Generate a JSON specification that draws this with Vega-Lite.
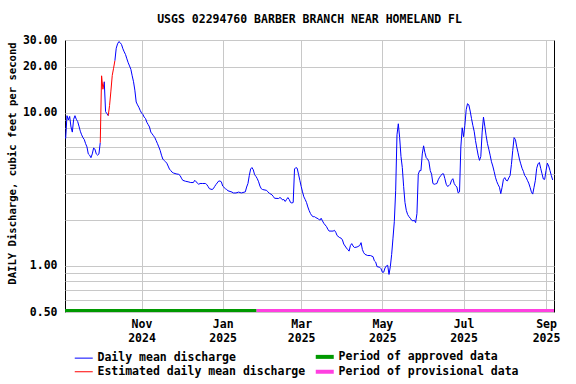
{
  "$schema": "https://vega.github.io/schema/vega-lite/v6.json",
  "width": 489,
  "height": 272,
  "autosize": "none",
  "padding": {"left": 65, "top": 40, "right": 22, "bottom": 72},
  "background": "white",
  "title": {"text": "USGS 02294760 BARBER BRANCH NEAR HOMELAND FL", "font": "DejaVu Sans Mono", "fontSize": 11.5, "fontWeight": "bold", "color": "black", "anchor": "middle", "offset": 9},
  "config": {"view": {"stroke": "black", "strokeWidth": 1}, "font": "DejaVu Sans Mono"},
  "layer": [
    {
      "data": {"values": [
        {"d":"2024-09-05","v":6.8,"s":"D","g":"b1"},{"d":"2024-09-06","v":9.6,"s":"D","g":"b1"},{"d":"2024-09-07","v":9.0,"s":"D","g":"b1"},{"d":"2024-09-08","v":9.5,"s":"D","g":"b1"},{"d":"2024-09-09","v":8.1,"s":"D","g":"b1"},{"d":"2024-09-10","v":7.5,"s":"D","g":"b1"},{"d":"2024-09-11","v":9.1,"s":"D","g":"b1"},{"d":"2024-09-12","v":9.6,"s":"D","g":"b1"},{"d":"2024-09-13","v":9.1,"s":"D","g":"b1"},{"d":"2024-09-14","v":8.8,"s":"D","g":"b1"},{"d":"2024-09-15","v":8.2,"s":"D","g":"b1"},{"d":"2024-09-16","v":7.6,"s":"D","g":"b1"},{"d":"2024-09-17","v":7.2,"s":"D","g":"b1"},{"d":"2024-09-18","v":6.9,"s":"D","g":"b1"},{"d":"2024-09-19","v":6.7,"s":"D","g":"b1"},{"d":"2024-09-20","v":6.3,"s":"D","g":"b1"},{"d":"2024-09-21","v":6.0,"s":"D","g":"b1"},{"d":"2024-09-22","v":5.4,"s":"D","g":"b1"},{"d":"2024-09-23","v":5.3,"s":"D","g":"b1"},{"d":"2024-09-24","v":5.1,"s":"D","g":"b1"},{"d":"2024-09-25","v":5.4,"s":"D","g":"b1"},{"d":"2024-09-26","v":5.9,"s":"D","g":"b1"},{"d":"2024-09-27","v":5.8,"s":"D","g":"b1"},{"d":"2024-09-28","v":5.4,"s":"D","g":"b1"},{"d":"2024-09-29","v":5.3,"s":"D","g":"b1"},{"d":"2024-09-30","v":5.4,"s":"D","g":"b1"},{"d":"2024-10-01","v":6.4,"s":"D","g":"b1"},
        {"d":"2024-10-01","v":6.4,"s":"E","g":"e1"},{"d":"2024-10-02","v":17.5,"s":"E","g":"e1"},{"d":"2024-10-03","v":14.3,"s":"E","g":"e1"},{"d":"2024-10-04","v":16.0,"s":"E","g":"e1"},
        {"d":"2024-10-04","v":16.0,"s":"D","g":"b2"},{"d":"2024-10-05","v":10.2,"s":"D","g":"b2"},{"d":"2024-10-06","v":9.9,"s":"D","g":"b2"},{"d":"2024-10-07","v":9.6,"s":"D","g":"b2"},
        {"d":"2024-10-07","v":9.6,"s":"E","g":"e2"},{"d":"2024-10-08","v":11.2,"s":"E","g":"e2"},{"d":"2024-10-09","v":13.9,"s":"E","g":"e2"},{"d":"2024-10-10","v":17.6,"s":"E","g":"e2"},{"d":"2024-10-11","v":19.6,"s":"E","g":"e2"},{"d":"2024-10-12","v":22.0,"s":"E","g":"e2"},
        {"d":"2024-10-12","v":22.0,"s":"D","g":"b3"},{"d":"2024-10-13","v":26.5,"s":"D","g":"b3"},{"d":"2024-10-14","v":28.3,"s":"D","g":"b3"},{"d":"2024-10-15","v":29.3,"s":"D","g":"b3"},{"d":"2024-10-16","v":28.8,"s":"D","g":"b3"},{"d":"2024-10-17","v":28.0,"s":"D","g":"b3"},{"d":"2024-10-18","v":26.3,"s":"D","g":"b3"},{"d":"2024-10-19","v":25.1,"s":"D","g":"b3"},{"d":"2024-10-20","v":24.1,"s":"D","g":"b3"},{"d":"2024-10-21","v":22.6,"s":"D","g":"b3"},{"d":"2024-10-22","v":21.3,"s":"D","g":"b3"},{"d":"2024-10-23","v":20.3,"s":"D","g":"b3"},{"d":"2024-10-24","v":19.3,"s":"D","g":"b3"},{"d":"2024-10-25","v":17.5,"s":"D","g":"b3"},{"d":"2024-10-26","v":16.0,"s":"D","g":"b3"},{"d":"2024-10-27","v":14.1,"s":"D","g":"b3"},{"d":"2024-10-28","v":11.8,"s":"D","g":"b3"},{"d":"2024-10-29","v":11.3,"s":"D","g":"b3"},{"d":"2024-10-30","v":10.9,"s":"D","g":"b3"},{"d":"2024-10-31","v":10.4,"s":"D","g":"b3"},
        {"d":"2024-11-01","v":10.0,"s":"D","g":"b3"},{"d":"2024-11-02","v":9.8,"s":"D","g":"b3"},{"d":"2024-11-03","v":9.4,"s":"D","g":"b3"},{"d":"2024-11-04","v":9.2,"s":"D","g":"b3"},{"d":"2024-11-05","v":8.7,"s":"D","g":"b3"},{"d":"2024-11-06","v":8.4,"s":"D","g":"b3"},{"d":"2024-11-07","v":8.1,"s":"D","g":"b3"},{"d":"2024-11-08","v":7.5,"s":"D","g":"b3"},{"d":"2024-11-09","v":7.3,"s":"D","g":"b3"},{"d":"2024-11-10","v":7.1,"s":"D","g":"b3"},{"d":"2024-11-11","v":6.9,"s":"D","g":"b3"},{"d":"2024-11-12","v":6.6,"s":"D","g":"b3"},{"d":"2024-11-13","v":6.3,"s":"D","g":"b3"},{"d":"2024-11-14","v":6.0,"s":"D","g":"b3"},{"d":"2024-11-15","v":5.7,"s":"D","g":"b3"},{"d":"2024-11-16","v":5.3,"s":"D","g":"b3"},{"d":"2024-11-17","v":5.0,"s":"D","g":"b3"},{"d":"2024-11-18","v":4.9,"s":"D","g":"b3"},{"d":"2024-11-19","v":4.8,"s":"D","g":"b3"},{"d":"2024-11-20","v":4.7,"s":"D","g":"b3"},{"d":"2024-11-21","v":4.5,"s":"D","g":"b3"},{"d":"2024-11-22","v":4.3,"s":"D","g":"b3"},{"d":"2024-11-23","v":4.2,"s":"D","g":"b3"},{"d":"2024-11-24","v":4.1,"s":"D","g":"b3"},{"d":"2024-11-25","v":4.05,"s":"D","g":"b3"},{"d":"2024-11-27","v":4.0,"s":"D","g":"b3"},{"d":"2024-11-29","v":3.97,"s":"D","g":"b3"},{"d":"2024-11-30","v":3.9,"s":"D","g":"b3"},
        {"d":"2024-12-01","v":3.75,"s":"D","g":"b3"},{"d":"2024-12-02","v":3.63,"s":"D","g":"b3"},{"d":"2024-12-04","v":3.58,"s":"D","g":"b3"},{"d":"2024-12-06","v":3.55,"s":"D","g":"b3"},{"d":"2024-12-08","v":3.51,"s":"D","g":"b3"},{"d":"2024-12-10","v":3.51,"s":"D","g":"b3"},{"d":"2024-12-11","v":3.63,"s":"D","g":"b3"},{"d":"2024-12-12","v":3.55,"s":"D","g":"b3"},{"d":"2024-12-14","v":3.42,"s":"D","g":"b3"},{"d":"2024-12-15","v":3.46,"s":"D","g":"b3"},{"d":"2024-12-17","v":3.46,"s":"D","g":"b3"},{"d":"2024-12-19","v":3.46,"s":"D","g":"b3"},{"d":"2024-12-20","v":3.41,"s":"D","g":"b3"},{"d":"2024-12-21","v":3.31,"s":"D","g":"b3"},{"d":"2024-12-22","v":3.2,"s":"D","g":"b3"},{"d":"2024-12-24","v":3.16,"s":"D","g":"b3"},{"d":"2024-12-25","v":3.2,"s":"D","g":"b3"},{"d":"2024-12-26","v":3.31,"s":"D","g":"b3"},{"d":"2024-12-27","v":3.41,"s":"D","g":"b3"},{"d":"2024-12-29","v":3.59,"s":"D","g":"b3"},{"d":"2024-12-30","v":3.59,"s":"D","g":"b3"},{"d":"2024-12-31","v":3.55,"s":"D","g":"b3"},
        {"d":"2025-01-01","v":3.33,"s":"D","g":"b3"},{"d":"2025-01-03","v":3.2,"s":"D","g":"b3"},{"d":"2025-01-04","v":3.16,"s":"D","g":"b3"},{"d":"2025-01-05","v":3.1,"s":"D","g":"b3"},{"d":"2025-01-08","v":3.04,"s":"D","g":"b3"},{"d":"2025-01-09","v":3.0,"s":"D","g":"b3"},{"d":"2025-01-11","v":3.0,"s":"D","g":"b3"},{"d":"2025-01-13","v":3.04,"s":"D","g":"b3"},{"d":"2025-01-15","v":3.0,"s":"D","g":"b3"},{"d":"2025-01-18","v":3.05,"s":"D","g":"b3"},{"d":"2025-01-19","v":3.28,"s":"D","g":"b3"},{"d":"2025-01-20","v":3.46,"s":"D","g":"b3"},{"d":"2025-01-21","v":3.9,"s":"D","g":"b3"},{"d":"2025-01-22","v":4.3,"s":"D","g":"b3"},{"d":"2025-01-23","v":4.4,"s":"D","g":"b3"},{"d":"2025-01-24","v":4.25,"s":"D","g":"b3"},{"d":"2025-01-25","v":3.95,"s":"D","g":"b3"},{"d":"2025-01-26","v":3.85,"s":"D","g":"b3"},{"d":"2025-01-27","v":3.72,"s":"D","g":"b3"},{"d":"2025-01-28","v":3.55,"s":"D","g":"b3"},{"d":"2025-01-29","v":3.33,"s":"D","g":"b3"},{"d":"2025-01-30","v":3.2,"s":"D","g":"b3"},{"d":"2025-01-31","v":3.16,"s":"D","g":"b3"},
        {"d":"2025-02-03","v":3.12,"s":"D","g":"b3"},{"d":"2025-02-04","v":3.05,"s":"D","g":"b3"},{"d":"2025-02-05","v":2.99,"s":"D","g":"b3"},{"d":"2025-02-07","v":2.92,"s":"D","g":"b3"},{"d":"2025-02-08","v":2.85,"s":"D","g":"b3"},{"d":"2025-02-09","v":2.77,"s":"D","g":"b3"},{"d":"2025-02-12","v":2.76,"s":"D","g":"b3"},{"d":"2025-02-13","v":2.8,"s":"D","g":"b3"},{"d":"2025-02-14","v":2.77,"s":"D","g":"b3"},{"d":"2025-02-15","v":2.7,"s":"D","g":"b3"},{"d":"2025-02-16","v":2.72,"s":"D","g":"b3"},{"d":"2025-02-17","v":2.64,"s":"D","g":"b3"},{"d":"2025-02-18","v":2.72,"s":"D","g":"b3"},{"d":"2025-02-19","v":2.8,"s":"D","g":"b3"},{"d":"2025-02-20","v":2.72,"s":"D","g":"b3"},{"d":"2025-02-21","v":2.6,"s":"D","g":"b3"},{"d":"2025-02-22","v":2.58,"s":"D","g":"b3"},{"d":"2025-02-23","v":2.6,"s":"D","g":"b3"},{"d":"2025-02-24","v":4.3,"s":"D","g":"b3"},{"d":"2025-02-25","v":4.4,"s":"D","g":"b3"},{"d":"2025-02-26","v":4.35,"s":"D","g":"b3"},{"d":"2025-02-27","v":3.97,"s":"D","g":"b3"},{"d":"2025-02-28","v":3.63,"s":"D","g":"b3"},
        {"d":"2025-03-01","v":3.31,"s":"D","g":"b3"},{"d":"2025-03-02","v":3.05,"s":"D","g":"b3"},{"d":"2025-03-03","v":2.83,"s":"D","g":"b3"},{"d":"2025-03-04","v":2.72,"s":"D","g":"b3"},{"d":"2025-03-05","v":2.6,"s":"D","g":"b3"},{"d":"2025-03-06","v":2.43,"s":"D","g":"b3"},{"d":"2025-03-07","v":2.3,"s":"D","g":"b3"},{"d":"2025-03-08","v":2.2,"s":"D","g":"b3"},{"d":"2025-03-09","v":2.13,"s":"D","g":"b3"},{"d":"2025-03-10","v":2.1,"s":"D","g":"b3"},{"d":"2025-03-11","v":2.1,"s":"D","g":"b3"},{"d":"2025-03-12","v":2.07,"s":"D","g":"b3"},{"d":"2025-03-14","v":2.03,"s":"D","g":"b3"},{"d":"2025-03-15","v":1.99,"s":"D","g":"b3"},{"d":"2025-03-16","v":2.05,"s":"D","g":"b3"},{"d":"2025-03-17","v":1.97,"s":"D","g":"b3"},{"d":"2025-03-18","v":1.9,"s":"D","g":"b3"},{"d":"2025-03-20","v":1.81,"s":"D","g":"b3"},{"d":"2025-03-21","v":1.74,"s":"D","g":"b3"},{"d":"2025-03-22","v":1.69,"s":"D","g":"b3"},{"d":"2025-03-25","v":1.69,"s":"D","g":"b3"},{"d":"2025-03-26","v":1.71,"s":"D","g":"b3"},{"d":"2025-03-27","v":1.66,"s":"D","g":"b3"},{"d":"2025-03-28","v":1.58,"s":"D","g":"b3"},{"d":"2025-03-30","v":1.53,"s":"D","g":"b3"},{"d":"2025-03-31","v":1.52,"s":"D","g":"b3"},
        {"d":"2025-04-01","v":1.48,"s":"D","g":"b3"},{"d":"2025-04-02","v":1.39,"s":"D","g":"b3"},{"d":"2025-04-04","v":1.31,"s":"D","g":"b3"},{"d":"2025-04-05","v":1.28,"s":"D","g":"b3"},{"d":"2025-04-06","v":1.25,"s":"D","g":"b3"},{"d":"2025-04-07","v":1.36,"s":"D","g":"b3"},{"d":"2025-04-08","v":1.4,"s":"D","g":"b3"},{"d":"2025-04-09","v":1.35,"s":"D","g":"b3"},{"d":"2025-04-10","v":1.32,"s":"D","g":"b3"},{"d":"2025-04-12","v":1.33,"s":"D","g":"b3"},{"d":"2025-04-14","v":1.36,"s":"D","g":"b3"},{"d":"2025-04-15","v":1.42,"s":"D","g":"b3"},{"d":"2025-04-16","v":1.28,"s":"D","g":"b3"},{"d":"2025-04-17","v":1.22,"s":"D","g":"b3"},{"d":"2025-04-18","v":1.19,"s":"D","g":"b3"},{"d":"2025-04-20","v":1.17,"s":"D","g":"b3"},{"d":"2025-04-22","v":1.17,"s":"D","g":"b3"},{"d":"2025-04-24","v":1.15,"s":"D","g":"b3"},{"d":"2025-04-25","v":1.08,"s":"D","g":"b3"},{"d":"2025-04-26","v":1.06,"s":"D","g":"b3"},{"d":"2025-04-27","v":0.99,"s":"D","g":"b3"},{"d":"2025-04-29","v":0.98,"s":"D","g":"b3"},{"d":"2025-04-30","v":0.96,"s":"D","g":"b3"},
        {"d":"2025-05-01","v":0.91,"s":"D","g":"b3"},{"d":"2025-05-02","v":0.91,"s":"D","g":"b3"},{"d":"2025-05-03","v":0.97,"s":"D","g":"b3"},{"d":"2025-05-04","v":1.0,"s":"D","g":"b3"},{"d":"2025-05-05","v":1.01,"s":"D","g":"b3"},{"d":"2025-05-06","v":0.88,"s":"D","g":"b3"},{"d":"2025-05-07","v":0.99,"s":"D","g":"b3"},{"d":"2025-05-08","v":1.19,"s":"D","g":"b3"},{"d":"2025-05-09","v":1.52,"s":"D","g":"b3"},{"d":"2025-05-10","v":1.95,"s":"D","g":"b3"},{"d":"2025-05-11","v":3.1,"s":"D","g":"b3"},{"d":"2025-05-12","v":7.2,"s":"D","g":"b3"},{"d":"2025-05-13","v":8.5,"s":"D","g":"b3"},{"d":"2025-05-14","v":6.9,"s":"D","g":"b3"},{"d":"2025-05-15","v":5.2,"s":"D","g":"b3"},{"d":"2025-05-16","v":4.4,"s":"D","g":"b3"},{"d":"2025-05-17","v":3.3,"s":"D","g":"b3"},{"d":"2025-05-18","v":2.6,"s":"D","g":"b3"},{"d":"2025-05-19","v":2.31,"s":"D","g":"b3"},{"d":"2025-05-20","v":2.17,"s":"D","g":"b3"},{"d":"2025-05-21","v":2.1,"s":"D","g":"b3"},{"d":"2025-05-22","v":2.05,"s":"D","g":"b3"},{"d":"2025-05-23","v":1.99,"s":"D","g":"b3"},{"d":"2025-05-24","v":1.97,"s":"D","g":"b3"},{"d":"2025-05-25","v":1.99,"s":"D","g":"b3"},{"d":"2025-05-26","v":1.92,"s":"D","g":"b3"},{"d":"2025-05-27","v":2.2,"s":"D","g":"b3"},{"d":"2025-05-28","v":3.97,"s":"D","g":"b3"},{"d":"2025-05-29","v":4.2,"s":"D","g":"b3"},{"d":"2025-05-30","v":4.2,"s":"D","g":"b3"},{"d":"2025-05-31","v":5.4,"s":"D","g":"b3"},
        {"d":"2025-06-01","v":6.1,"s":"D","g":"b3"},{"d":"2025-06-02","v":5.5,"s":"D","g":"b3"},{"d":"2025-06-03","v":5.1,"s":"D","g":"b3"},{"d":"2025-06-04","v":5.0,"s":"D","g":"b3"},{"d":"2025-06-05","v":4.8,"s":"D","g":"b3"},{"d":"2025-06-06","v":4.2,"s":"D","g":"b3"},{"d":"2025-06-07","v":3.98,"s":"D","g":"b3"},{"d":"2025-06-08","v":3.46,"s":"D","g":"b3"},{"d":"2025-06-09","v":3.42,"s":"D","g":"b3"},{"d":"2025-06-10","v":3.44,"s":"D","g":"b3"},{"d":"2025-06-11","v":3.46,"s":"D","g":"b3"},{"d":"2025-06-12","v":3.66,"s":"D","g":"b3"},{"d":"2025-06-13","v":3.8,"s":"D","g":"b3"},{"d":"2025-06-14","v":3.9,"s":"D","g":"b3"},{"d":"2025-06-15","v":4.0,"s":"D","g":"b3"},{"d":"2025-06-16","v":4.0,"s":"D","g":"b3"},{"d":"2025-06-17","v":3.72,"s":"D","g":"b3"},{"d":"2025-06-18","v":3.42,"s":"D","g":"b3"},{"d":"2025-06-19","v":3.31,"s":"D","g":"b3"},{"d":"2025-06-20","v":3.35,"s":"D","g":"b3"},{"d":"2025-06-21","v":3.42,"s":"D","g":"b3"},{"d":"2025-06-22","v":3.63,"s":"D","g":"b3"},{"d":"2025-06-23","v":3.72,"s":"D","g":"b3"},{"d":"2025-06-24","v":3.46,"s":"D","g":"b3"},{"d":"2025-06-25","v":3.35,"s":"D","g":"b3"},{"d":"2025-06-26","v":3.28,"s":"D","g":"b3"},{"d":"2025-06-27","v":3.0,"s":"D","g":"b3"},{"d":"2025-06-28","v":3.05,"s":"D","g":"b3"},{"d":"2025-06-29","v":6.0,"s":"D","g":"b3"},{"d":"2025-06-30","v":8.0,"s":"D","g":"b3"},
        {"d":"2025-07-01","v":7.0,"s":"D","g":"b3"},{"d":"2025-07-02","v":8.3,"s":"D","g":"b3"},{"d":"2025-07-03","v":10.5,"s":"D","g":"b3"},{"d":"2025-07-04","v":11.5,"s":"D","g":"b3"},{"d":"2025-07-05","v":11.3,"s":"D","g":"b3"},{"d":"2025-07-06","v":10.3,"s":"D","g":"b3"},{"d":"2025-07-07","v":9.2,"s":"D","g":"b3"},{"d":"2025-07-08","v":8.3,"s":"D","g":"b3"},{"d":"2025-07-09","v":7.6,"s":"D","g":"b3"},{"d":"2025-07-10","v":6.6,"s":"D","g":"b3"},{"d":"2025-07-11","v":5.9,"s":"D","g":"b3"},{"d":"2025-07-12","v":5.3,"s":"D","g":"b3"},{"d":"2025-07-13","v":4.9,"s":"D","g":"b3"},{"d":"2025-07-14","v":5.2,"s":"D","g":"b3"},{"d":"2025-07-15","v":7.5,"s":"D","g":"b3"},{"d":"2025-07-16","v":9.4,"s":"D","g":"b3"},{"d":"2025-07-17","v":8.2,"s":"D","g":"b3"},{"d":"2025-07-18","v":7.1,"s":"D","g":"b3"},{"d":"2025-07-19","v":6.3,"s":"D","g":"b3"},{"d":"2025-07-20","v":5.8,"s":"D","g":"b3"},{"d":"2025-07-21","v":5.3,"s":"D","g":"b3"},{"d":"2025-07-22","v":4.8,"s":"D","g":"b3"},{"d":"2025-07-23","v":4.5,"s":"D","g":"b3"},{"d":"2025-07-24","v":4.15,"s":"D","g":"b3"},{"d":"2025-07-25","v":3.8,"s":"D","g":"b3"},{"d":"2025-07-26","v":3.56,"s":"D","g":"b3"},{"d":"2025-07-27","v":3.4,"s":"D","g":"b3"},{"d":"2025-07-28","v":3.27,"s":"D","g":"b3"},{"d":"2025-07-29","v":2.97,"s":"D","g":"b3"},{"d":"2025-07-30","v":3.27,"s":"D","g":"b3"},{"d":"2025-07-31","v":3.68,"s":"D","g":"b3"},
        {"d":"2025-08-01","v":3.78,"s":"D","g":"b3"},{"d":"2025-08-02","v":3.63,"s":"D","g":"b3"},{"d":"2025-08-03","v":3.6,"s":"D","g":"b3"},{"d":"2025-08-04","v":3.76,"s":"D","g":"b3"},{"d":"2025-08-05","v":3.9,"s":"D","g":"b3"},{"d":"2025-08-06","v":4.6,"s":"D","g":"b3"},{"d":"2025-08-07","v":5.7,"s":"D","g":"b3"},{"d":"2025-08-08","v":6.9,"s":"D","g":"b3"},{"d":"2025-08-09","v":6.7,"s":"D","g":"b3"},{"d":"2025-08-10","v":6.0,"s":"D","g":"b3"},{"d":"2025-08-11","v":5.5,"s":"D","g":"b3"},{"d":"2025-08-12","v":5.0,"s":"D","g":"b3"},{"d":"2025-08-13","v":4.65,"s":"D","g":"b3"},{"d":"2025-08-14","v":4.35,"s":"D","g":"b3"},{"d":"2025-08-15","v":4.15,"s":"D","g":"b3"},{"d":"2025-08-16","v":3.9,"s":"D","g":"b3"},{"d":"2025-08-17","v":3.8,"s":"D","g":"b3"},{"d":"2025-08-18","v":3.63,"s":"D","g":"b3"},{"d":"2025-08-19","v":3.48,"s":"D","g":"b3"},{"d":"2025-08-20","v":3.27,"s":"D","g":"b3"},{"d":"2025-08-21","v":3.05,"s":"D","g":"b3"},{"d":"2025-08-22","v":2.95,"s":"D","g":"b3"},{"d":"2025-08-23","v":3.27,"s":"D","g":"b3"},{"d":"2025-08-24","v":3.63,"s":"D","g":"b3"},{"d":"2025-08-25","v":4.35,"s":"D","g":"b3"},{"d":"2025-08-26","v":4.65,"s":"D","g":"b3"},{"d":"2025-08-27","v":4.75,"s":"D","g":"b3"},{"d":"2025-08-28","v":4.35,"s":"D","g":"b3"},{"d":"2025-08-29","v":4.0,"s":"D","g":"b3"},{"d":"2025-08-30","v":3.7,"s":"D","g":"b3"},{"d":"2025-08-31","v":3.68,"s":"D","g":"b3"},
        {"d":"2025-09-01","v":4.2,"s":"D","g":"b3"},{"d":"2025-09-02","v":4.7,"s":"D","g":"b3"},{"d":"2025-09-03","v":4.5,"s":"D","g":"b3"},{"d":"2025-09-04","v":4.2,"s":"D","g":"b3"},{"d":"2025-09-05","v":3.9,"s":"D","g":"b3"},{"d":"2025-09-06","v":3.65,"s":"D","g":"b3"}
      ]},
      "mark": {"type": "line", "strokeWidth": 1},
      "encoding": {
        "x": {
          "field": "d", "type": "temporal",
          "scale": {"type": "utc", "domain": [{"year": 2024, "month": 9, "date": 4, "hours": 12, "utc": true}, {"year": 2025, "month": 9, "date": 7, "utc": true}]},
          "axis": {
            "title": null,
            "values": [{"year": 2024, "month": 11, "date": 1, "utc": true}, {"year": 2025, "month": 1, "date": 1, "utc": true}, {"year": 2025, "month": 3, "date": 1, "utc": true}, {"year": 2025, "month": 5, "date": 1, "utc": true}, {"year": 2025, "month": 7, "date": 1, "utc": true}, {"year": 2025, "month": 9, "date": 1, "utc": true}],
            "labelExpr": "[utcFormat(datum.value, '%b'), utcFormat(datum.value, '%Y')]",
            "grid": true, "gridColor": "#c8c8c8", "gridWidth": 1, "gridOpacity": 1,
            "ticks": false, "domain": false,
            "labelFont": "DejaVu Sans Mono", "labelFontSize": 11.5, "labelFontWeight": "bold", "labelColor": "black",
            "labelPadding": 6, "labelLineHeight": 14, "labelFlush": false, "labelOverlap": false, "labelBound": false
          }
        },
        "y": {
          "field": "v", "type": "quantitative",
          "scale": {"type": "log", "domain": [0.5, 30], "nice": false},
          "axis": {
            "title": "DAILY Discharge, cubic feet per second",
            "titleFont": "DejaVu Sans Mono", "titleFontSize": 10.6, "titleFontWeight": "bold", "titleColor": "black",
            "titleAngle": -90, "titleX": -53, "titleY": 123, "titleAlign": "center", "titleBaseline": "middle",
            "values": [0.5, 0.6, 0.7, 0.8, 0.9, 1, 2, 3, 4, 5, 6, 7, 8, 9, 10, 20, 30],
            "labelExpr": "indexof([0.5, 1, 10, 20, 30], datum.value) >= 0 ? format(datum.value, '.2f') : ''",
            "grid": true, "gridColor": "#c8c8c8", "gridWidth": 1, "gridOpacity": 1,
            "ticks": false, "domain": false,
            "labelFont": "DejaVu Sans Mono", "labelFontSize": 11.5, "labelFontWeight": "bold", "labelColor": "black",
            "labelPadding": 8, "labelOverlap": false, "labelBound": false, "labelFlush": false
          }
        },
        "color": {
          "field": "s", "type": "nominal",
          "scale": {"domain": ["D", "A", "E", "P"], "range": ["#0000ff", "#009900", "#ff0000", "#ff40e0"]},
          "legend": {
            "title": null, "orient": "none", "legendX": 13, "legendY": 311,
            "columns": 2, "direction": "horizontal",
            "symbolType": "stroke", "symbolSize": 324, "symbolStrokeWidth": 1,
            "labelFont": "DejaVu Sans Mono", "labelFontSize": 11.5, "labelFontWeight": "bold", "labelColor": "black",
            "labelOffset": 8, "columnPadding": 1, "rowPadding": -2, "labelLimit": 400,
            "labelExpr": "datum.label == 'D' ? 'Daily mean discharge' : datum.label == 'E' ? 'Estimated daily mean discharge' : datum.label == 'A' ? 'Period of approved data' : 'Period of provisional data'",
            "encode": {"symbols": {"update": {"strokeWidth": {"signal": "datum.value == 'A' || datum.value == 'P' ? 4 : 1"}}}}
          }
        },
        "detail": {"field": "g"}
      }
    },
    {
      "data": {"values": [
        {"start": "2024-09-04T12:00:00Z", "end": "2025-01-26T12:00:00Z", "s": "A"},
        {"start": "2025-01-26T12:00:00Z", "end": "2025-09-07T00:00:00Z", "s": "P"}
      ]},
      "mark": {"type": "rule", "strokeWidth": 3, "yOffset": -1.5},
      "encoding": {
        "x": {"field": "start", "type": "temporal"},
        "x2": {"field": "end"},
        "y": {"datum": 0.5},
        "color": {"field": "s", "type": "nominal"}
      }
    }
  ]
}
